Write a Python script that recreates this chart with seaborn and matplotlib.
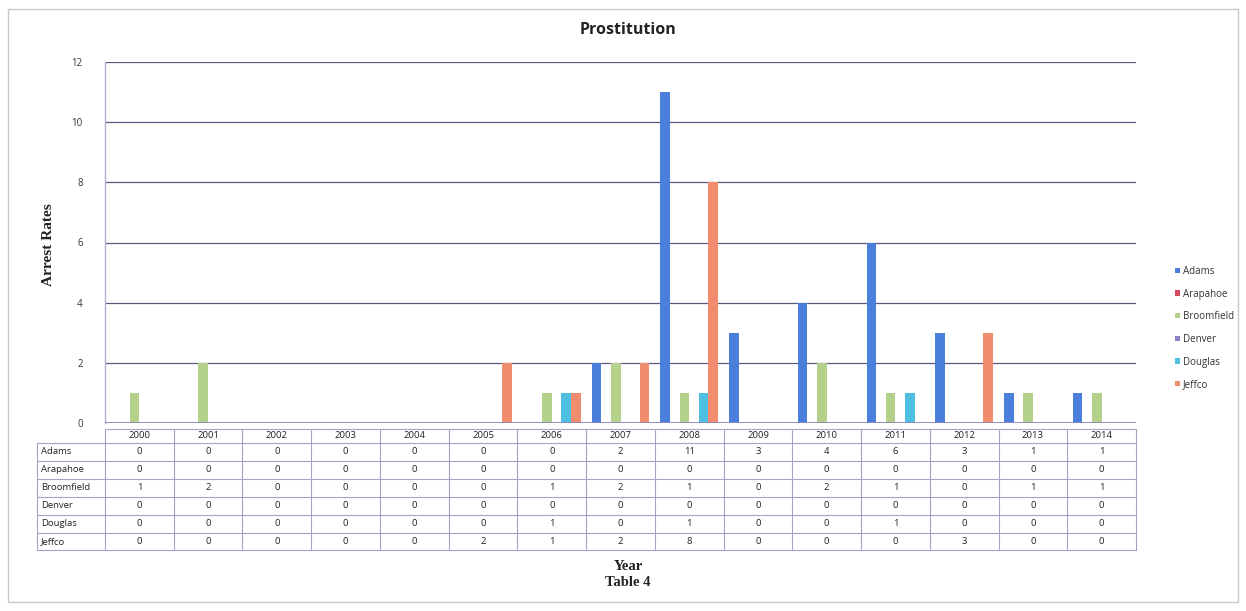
import matplotlib
matplotlib.use("Agg")
import matplotlib.pyplot as plt
import pandas as pd
import seaborn as sns
from matplotlib import transforms
from matplotlib.patches import Rectangle

# Arrest counts per county and year
years = ["2000", "2001", "2002", "2003", "2004", "2005", "2006", "2007",
         "2008", "2009", "2010", "2011", "2012", "2013", "2014"]
counties = ["Adams", "Arapahoe", "Broomfield", "Denver", "Douglas", "Jeffco"]
adams = [0, 0, 0, 0, 0, 0, 0, 2, 11, 3, 4, 6, 3, 1, 1]
arapahoe = [0, 0, 0, 0, 0, 0, 0, 0, 0, 0, 0, 0, 0, 0, 0]
broomfield = [1, 2, 0, 0, 0, 0, 1, 2, 1, 0, 2, 1, 0, 1, 1]
denver = [0, 0, 0, 0, 0, 0, 0, 0, 0, 0, 0, 0, 0, 0, 0]
douglas = [0, 0, 0, 0, 0, 0, 1, 0, 1, 0, 0, 1, 0, 0, 0]
jeffco = [0, 0, 0, 0, 0, 2, 1, 2, 8, 0, 0, 0, 3, 0, 0]
y_ticks = [0, 2, 4, 6, 8, 10, 12]

series = [adams, arapahoe, broomfield, denver, douglas, jeffco]
palette = ["#4a7fdc", "#d9485f", "#b3d18a", "#8f80c8", "#4dbfe0", "#f28c6e"]

df = pd.DataFrame(
    [(y, c, v) for c, vals in zip(counties, series) for y, v in zip(years, vals)],
    columns=["Year", "County", "Arrests"],
)

W, H = 1246, 611
sns.set_style("white")
plt.rcParams["font.family"] = ["Open Sans", "DejaVu Sans"]

fig = plt.figure(figsize=(W / 100, H / 100), dpi=100)
ax = fig.add_axes([105 / W, 1 - 423 / H, (1136 - 105) / W, (423 - 62) / H])

# gridlines behind bars
for t in y_ticks[1:]:
    ax.axhline(t, color="#5a5a80", lw=0.9, zorder=0)

sns.barplot(data=df, x="Year", y="Arrests", hue="County", hue_order=counties,
            order=years, palette=palette, width=0.84, saturation=1,
            linewidth=0, ax=ax, zorder=2)

# floor of the chart
ax.axhline(0, color="#8c84c0", lw=2, zorder=3)

ax.set_xlim(-0.5, len(years) - 0.5)
ax.set_ylim(0, 12)
ax.set_yticks(y_ticks)
ax.set_yticklabels([str(t) for t in y_ticks], fontsize=7, color="#333333")
ax.tick_params(axis="y", length=0, pad=16)
ax.set_xticks([])
ax.set_xlabel("")
ax.set_ylabel("")
for s in ["top", "right", "bottom"]:
    ax.spines[s].set_visible(False)
ax.spines["left"].set_color("#b0b0d8")
ax.spines["left"].set_linewidth(1)

# legend
sns.move_legend(ax, "center left", bbox_to_anchor=(1166 / W, 1 - 328 / H),
                bbox_transform=fig.transFigure, frameon=False, title=None,
                fontsize=7, handlelength=0.5, handleheight=0.5,
                handletextpad=0.3, labelspacing=1.2)
for txt in ax.get_legend().get_texts():
    txt.set_color("#333333")

# data table beneath the bars
trans = transforms.blended_transform_factory(ax.transData, fig.transFigure)
lab_left = -0.5 - (105 - 37) / ((1136 - 105) / len(years))
hdr_top, hdr_bot = 429, 443
row_h = 17.9
rows_bot = hdr_bot + row_h * len(counties)
fy = lambda p: 1 - p / H
line_kw = dict(color="#a4a4c8", lw=0.8, transform=trans, clip_on=False)

ax.plot([-0.5, len(years) - 0.5], [fy(hdr_top)] * 2, **line_kw)
for k in range(len(counties) + 1):
    yy = fy(hdr_bot + row_h * k)
    ax.plot([lab_left, len(years) - 0.5], [yy, yy], **line_kw)
ax.plot([lab_left, lab_left], [fy(hdr_bot), fy(rows_bot)], **line_kw)
for i in range(len(years) + 1):
    ax.plot([i - 0.5, i - 0.5], [fy(hdr_top), fy(rows_bot)], **line_kw)

cell_kw = dict(transform=trans, fontsize=6.8, color="#222222", va="center",
               clip_on=False)
for i, y in enumerate(years):
    ax.text(i, fy((hdr_top + hdr_bot) / 2), y, ha="center", **cell_kw)
for k, (c, vals) in enumerate(zip(counties, series)):
    yc = fy(hdr_bot + row_h * (k + 0.5))
    ax.text(lab_left + 0.06, yc, c, ha="left", **cell_kw)
    for i, v in enumerate(vals):
        ax.text(i, yc, str(v), ha="center", **cell_kw)

# titles
fig.text(628 / W, fy(30), "Prostitution", ha="center", va="center",
         fontsize=11.5, fontweight="bold", color="#222222")
fig.text(48 / W, fy(245), "Arrest Rates", ha="center", va="center",
         rotation=90, fontsize=11, fontweight="bold", color="#222222",
         family="Liberation Serif")
fig.text(628 / W, fy(566), "Year", ha="center", va="center", fontsize=10.5,
         fontweight="bold", color="#222222", family="Liberation Serif")
fig.text(628 / W, fy(582), "Table 4", ha="center", va="center", fontsize=10.5,
         fontweight="bold", color="#222222", family="Liberation Serif")

# outer frame
fig.patches.append(Rectangle((8 / W, 9 / H), (1238 - 8) / W, (602 - 9) / H,
                             transform=fig.transFigure, fill=False,
                             ec="#c8c8c8", lw=1))

fig.savefig("out.png", dpi=100)
